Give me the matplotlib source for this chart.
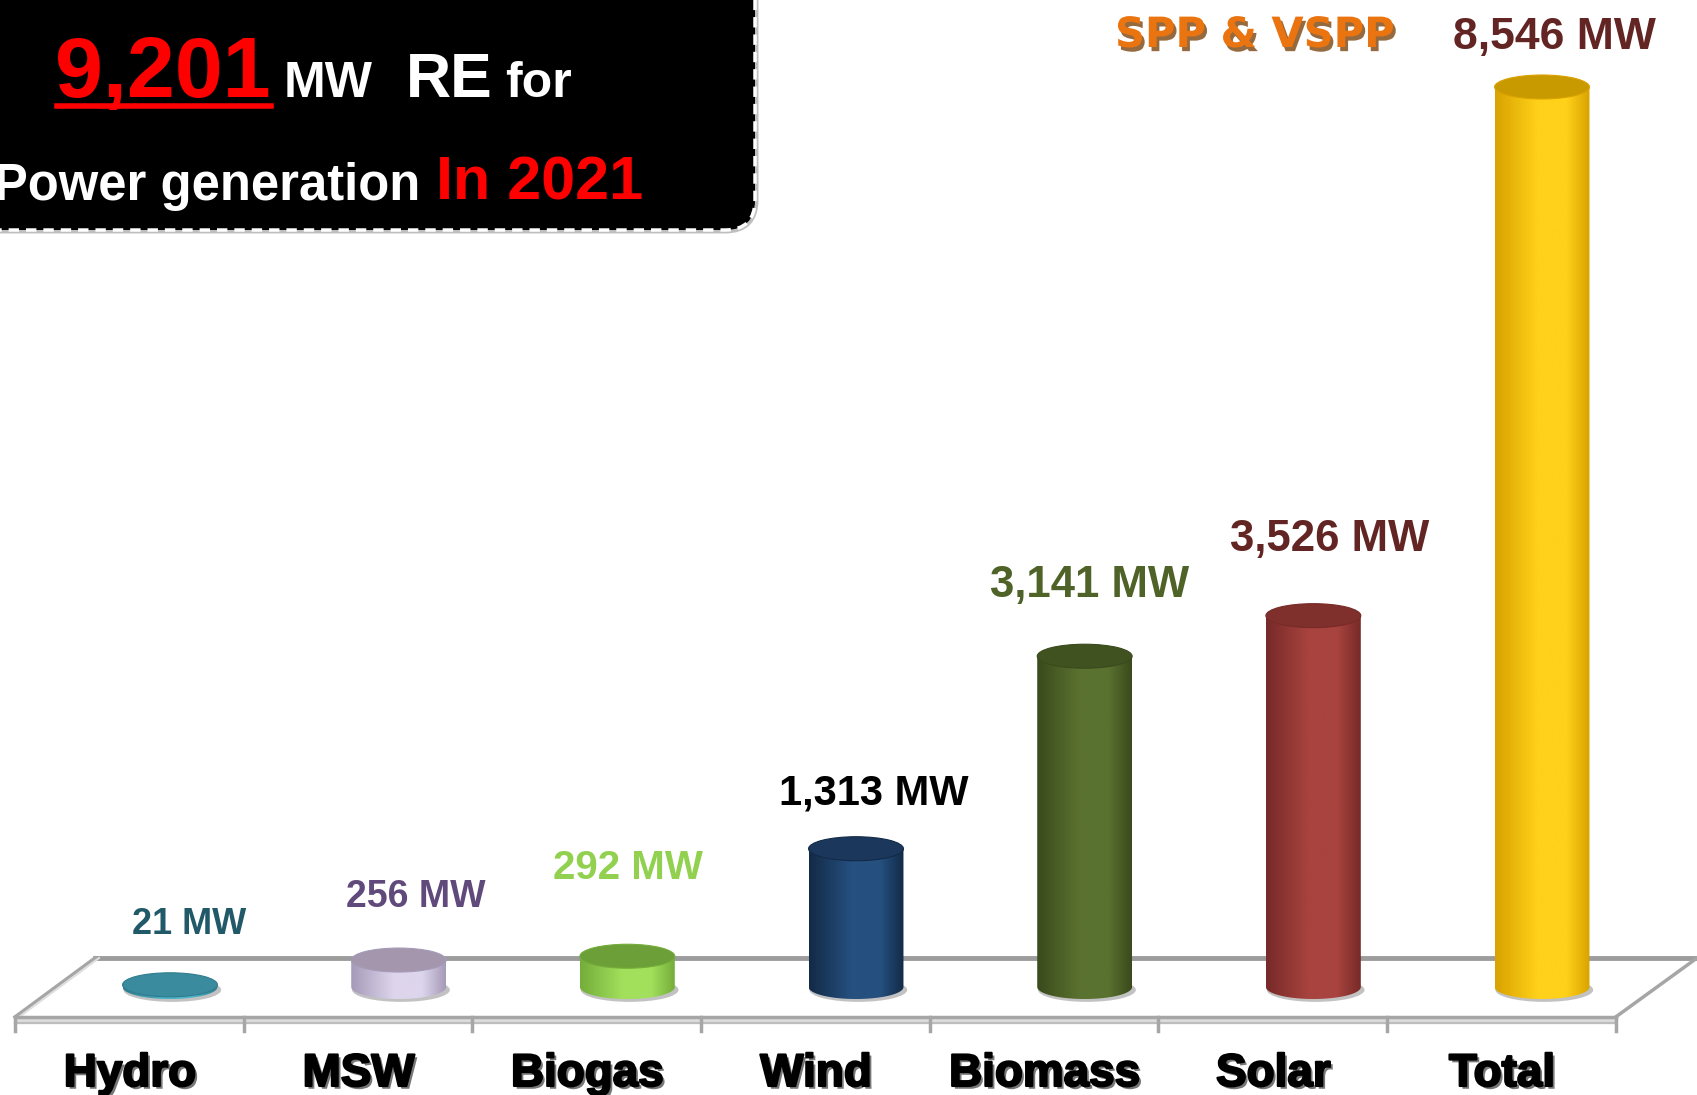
import numpy as np
import matplotlib
matplotlib.use("Agg")
import matplotlib.pyplot as plt
from matplotlib.patches import Ellipse, Polygon, FancyBboxPatch
from matplotlib.colors import LinearSegmentedColormap
import matplotlib.patheffects as pe

# data
categories = ["Hydro", "MSW", "Biogas", "Wind", "Biomass", "Solar", "Total"]
capacity_mw = [21, 256, 292, 1313, 3141, 3526, 8546]
value_labels = ["21 MW", "256 MW", "292 MW", "1,313 MW", "3,141 MW", "3,526 MW", "8,546 MW"]
total_re = "9,201"
year = "2021"

# styles
edge_cols = ["#2f7d8f", "#a59ab8", "#74ad3a", "#132a47", "#3a4a1c", "#772a28", "#d9a200"]
light_cols = ["#4ab3c9", "#ddd5ec", "#a2e05c", "#25507f", "#5a7230", "#a8433f", "#ffd11a"]
top_cols = ["#3a8b9d", "#a396ad", "#6c9f37", "#1b375b", "#3f5220", "#7f2f2c", "#c99a00"]
label_cols = ["#215968", "#604a7b", "#92d050", "#000000", "#4f6228", "#632523", "#632523"]
label_size = [26, 27, 29, 30, 31.5, 31.5, 32]
label_up = [60, 63, 88, 55, 71, 76, 50]      # px above cylinder top
label_dx = [19, 17, 1, 18, 5, 16, 12]        # px right of cylinder centre

W, H = 1697, 1095
fig = plt.figure(figsize=(W / 100, H / 100), dpi=100)

# decoration layer in pixel coords
deco = fig.add_axes([0, 0, 1, 1], zorder=0)
deco.set_xlim(0, W)
deco.set_ylim(H, 0)
deco.axis("off")

# chart layer: x = category index, y = MW
ax = fig.add_axes([0, 0, 1, 1], zorder=1)
ax.patch.set_alpha(0)
mw_per_px = 8546 / 900.0
x0_px, step_px, base_px = 170, 228.67, 987
xlim = (-x0_px / step_px, (W - x0_px) / step_px)
ylim = (-(H - base_px) * mw_per_px, base_px * mw_per_px)
ax.axis("off")

# floor
front, back = 1017, 958
fl = 15
fr = fl + 7 * step_px
deco.add_patch(Polygon([(fl, front), (fr, front), (W + 2, back), (95, back)],
                       closed=True, fc="white", ec="none"))
deco.plot([95, W], [back, back], color="#9c9c9c", lw=3.5)
deco.plot([fl, 95], [front, back], color="#a6a6a6", lw=2.5)
deco.plot([fl + 4, 99], [front, back], color="#dedede", lw=1.5)
deco.plot([fr, W], [front, back], color="#a6a6a6", lw=2.5)
deco.fill_between([fl, fr], front, front + 6, color="#dcdcdc")
deco.plot([fl, fr], [front, front], color="#a6a6a6", lw=2.5)
deco.plot([fl, fr], [front + 6, front + 6], color="#bdbdbd", lw=1.5)
for k in range(8):
    xt = fl + k * step_px
    deco.plot([xt, xt], [front, front + 14], color="#a6a6a6", lw=2.5)

# cylinders
w = 0.415
eh = 24 * mw_per_px
t = np.linspace(np.pi, 2 * np.pi, 60)
for i, v in enumerate(capacity_mw):
    xc = i
    sh = Ellipse((xc + 0.01, -eh * 0.12), w * 1.03, eh, fc="#9a9a9a", ec="none", alpha=0.6, zorder=2)
    ax.add_patch(sh)
    pts = [(xc - w / 2, v)] + [(xc + w / 2 * np.cos(a), eh / 2 * np.sin(a)) for a in t] + [(xc + w / 2, v)]
    body = Polygon(pts, closed=True, fc="none", ec="none", zorder=3)
    ax.add_patch(body)
    cmap = LinearSegmentedColormap.from_list(
        "c%d" % i, [(0, edge_cols[i]), (0.45, light_cols[i]), (0.75, light_cols[i]), (1, edge_cols[i])])
    im = ax.imshow(np.linspace(0, 1, 256).reshape(1, -1), extent=[xc - w / 2, xc + w / 2, -eh / 2, v],
                   cmap=cmap, aspect="auto", zorder=3, interpolation="bilinear")
    im.set_clip_path(body)
    ax.add_patch(Ellipse((xc, v), w, eh, fc=top_cols[i], ec=edge_cols[i], lw=0.8, zorder=4))
    ax.text(xc + label_dx[i] / step_px, v + label_up[i] * mw_per_px, value_labels[i],
            ha="center", va="center", fontsize=label_size[i], fontweight="bold",
            color=label_cols[i], family="Liberation Sans", zorder=5)

# category labels
for i, c in enumerate(categories):
    ax.text(i - 40 / step_px, -(1086 - base_px) * mw_per_px, c, ha="center", va="baseline",
            fontsize=33, fontweight="bold", color="black", family="Liberation Sans",
            path_effects=[pe.withSimplePatchShadow(offset=(2, -2), shadow_rgbFace="#555555", alpha=0.8),
                          pe.withStroke(linewidth=1.5, foreground="black")])

ax.set_xlim(*xlim)
ax.set_ylim(*ylim)

# title box
deco.add_patch(FancyBboxPatch((-60, -60), 815, 290, boxstyle="round,pad=0,rounding_size=30",
                              fc="none", ec="#bfbfbf", lw=5, zorder=3))
deco.add_patch(FancyBboxPatch((-60, -60), 815, 290, boxstyle="round,pad=0,rounding_size=30",
                              fc="black", ec="white", lw=2.5, ls=(0, (3, 2)), zorder=4))
tf = dict(family="Liberation Sans", fontweight="bold", va="baseline", zorder=5)
deco.text(55, 97, total_re, color="#ff0000", fontsize=62, **tf)
deco.plot([57, 271], [106, 106], color="#ff0000", lw=4, zorder=5)
deco.text(284, 97, "MW", color="white", fontsize=36, **tf)
deco.text(406, 97, "RE", color="white", fontsize=45, **tf)
deco.text(505, 97, "for", color="white", fontsize=36, **tf)
deco.text(-6, 200, "Power generation", color="white", fontsize=36.5, **tf)
deco.text(436, 200, "In " + year, color="#ff0000", fontsize=44, **tf)

# SPP & VSPP
deco.text(1255, 47, "SPP & VSPP", ha="center", va="baseline", fontsize=30, fontweight="bold",
          color="#ea7410", family="DejaVu Sans", zorder=5,
          path_effects=[pe.withSimplePatchShadow(offset=(2, -3), shadow_rgbFace="#8a5a2a", alpha=0.9)])

fig.savefig("out.png", dpi=100)
